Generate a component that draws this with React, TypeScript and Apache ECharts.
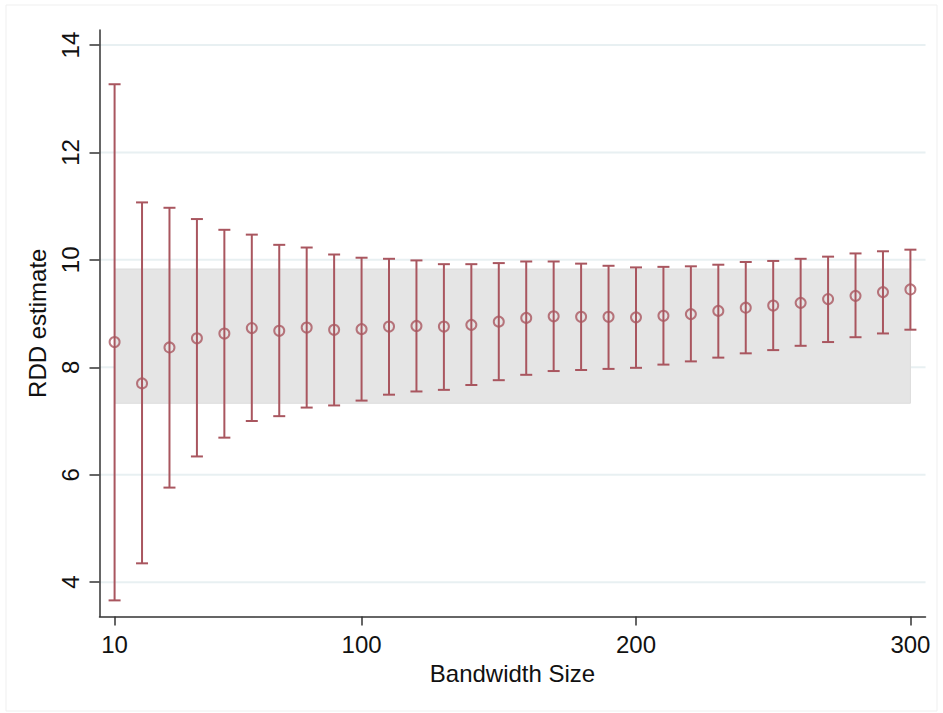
import { useEffect, useRef } from "react";
import * as echarts from "echarts";

const bandwidths = [
  10, 20, 30, 40, 50, 60, 70, 80, 90, 100, 110, 120, 130, 140, 150, 160, 170,
  180, 190, 200, 210, 220, 230, 240, 250, 260, 270, 280, 290, 300,
];
const estimates = [
  8.47, 7.7, 8.37, 8.54, 8.63, 8.73, 8.68, 8.74, 8.7, 8.71, 8.76, 8.77, 8.76,
  8.79, 8.85, 8.92, 8.95, 8.94, 8.94, 8.93, 8.96, 8.99, 9.05, 9.11, 9.15, 9.2,
  9.27, 9.33, 9.4, 9.45,
];
const upperCI = [
  13.27, 11.07, 10.97, 10.76, 10.56, 10.47, 10.28, 10.23, 10.1, 10.04, 10.02,
  9.99, 9.92, 9.92, 9.94, 9.97, 9.97, 9.93, 9.89, 9.86, 9.87, 9.88, 9.91, 9.96,
  9.98, 10.02, 10.06, 10.12, 10.16, 10.19,
];
const lowerCI = [
  3.66, 4.35, 5.76, 6.34, 6.69, 7.0, 7.09, 7.25, 7.29, 7.38, 7.49, 7.55, 7.58,
  7.67, 7.76, 7.86, 7.93, 7.95, 7.97, 7.99, 8.05, 8.11, 8.18, 8.26, 8.32, 8.4,
  8.47, 8.56, 8.63, 8.7,
];
// shaded reference band: x from/to, y low/high
const bandX = [10, 300];
const bandY = [7.33, 9.83];

const xTicks = [10, 100, 200, 300];
const yTicks = [4, 6, 8, 10, 12, 14];

const xMin = 4.5;
const xMax = 305.5;
const barColor = "#a9565f";
const font = "'Liberation Sans', Arial, sans-serif";

export default function App() {
  const chartRef = useRef<HTMLDivElement>(null);

  useEffect(() => {
    if (!chartRef.current) return;
    const chart = echarts.init(chartRef.current, null, { renderer: "svg" });

    const barData = bandwidths.map((b, i) => [b, lowerCI[i], upperCI[i]]);
    const pointData = bandwidths.map((b, i) => [b, estimates[i]]);

    chart.setOption({
      animation: false,
      backgroundColor: "#ffffff",
      graphic: [
        {
          type: "rect",
          shape: { x: 6, y: 5, width: 931, height: 706 },
          style: { fill: "none", stroke: "#efefef", lineWidth: 1 },
          silent: true,
        },
      ],
      grid: {
        left: 99.5,
        right: 17.5,
        top: 30,
        bottom: 96.5,
        containLabel: false,
      },
      xAxis: {
        type: "value",
        min: xMin,
        max: xMax,
        name: "Bandwidth Size",
        nameLocation: "middle",
        nameGap: 41,
        nameTextStyle: { fontFamily: font, fontSize: 24, color: "#111" },
        axisLine: { lineStyle: { color: "#333", width: 1.5 } },
        axisTick: {
          customValues: xTicks,
          length: 9,
          lineStyle: { color: "#333", width: 1.5 },
        },
        axisLabel: {
          customValues: xTicks,
          margin: 16,
          fontFamily: font,
          fontSize: 24,
          color: "#111",
        },
        splitLine: { show: false },
      },
      yAxis: {
        type: "value",
        min: 3.36,
        max: 14.28,
        name: "RDD estimate",
        nameLocation: "middle",
        nameGap: 50,
        nameRotate: 90,
        nameTextStyle: { fontFamily: font, fontSize: 24, color: "#111" },
        axisLine: { onZero: false, lineStyle: { color: "#333", width: 1.5 } },
        axisTick: {
          customValues: yTicks,
          length: 10,
          lineStyle: { color: "#333", width: 1.5 },
        },
        axisLabel: {
          customValues: yTicks,
          rotate: 90,
          margin: 17,
          fontFamily: font,
          fontSize: 24,
          color: "#111",
        },
        splitLine: { show: false },
      },
      series: [
        {
          // horizontal grid lines at the y ticks
          type: "custom",
          z: 0,
          silent: true,
          data: yTicks.map((t) => [t]),
          renderItem: (params: any, api: any) => {
            const a = api.coord([xMin, api.value(0)]);
            const b = api.coord([xMax, api.value(0)]);
            return {
              type: "line",
              shape: { x1: a[0], y1: a[1], x2: b[0], y2: b[1] },
              style: { stroke: "#e8f0f2", lineWidth: 2 },
            };
          },
        },
        {
          // shaded band
          type: "custom",
          z: 1,
          silent: true,
          data: [[bandX[0], bandY[0], bandX[1], bandY[1]]],
          renderItem: (params: any, api: any) => {
            const p0 = api.coord([api.value(0), api.value(3)]);
            const p1 = api.coord([api.value(2), api.value(1)]);
            return {
              type: "rect",
              shape: {
                x: p0[0],
                y: p0[1],
                width: p1[0] - p0[0],
                height: p1[1] - p0[1],
              },
              style: { fill: "#e5e5e5", stroke: "#dcdcdc", lineWidth: 1 },
            };
          },
        },
        {
          type: "custom",
          z: 3,
          data: barData,
          renderItem: (params: any, api: any) => {
            const lo = api.coord([api.value(0), api.value(1)]);
            const hi = api.coord([api.value(0), api.value(2)]);
            const cap = 6;
            const style = { stroke: barColor, lineWidth: 2 };
            return {
              type: "group",
              children: [
                {
                  type: "line",
                  shape: { x1: lo[0], y1: lo[1], x2: hi[0], y2: hi[1] },
                  style,
                },
                {
                  type: "line",
                  shape: { x1: lo[0] - cap, y1: lo[1], x2: lo[0] + cap, y2: lo[1] },
                  style,
                },
                {
                  type: "line",
                  shape: { x1: hi[0] - cap, y1: hi[1], x2: hi[0] + cap, y2: hi[1] },
                  style,
                },
              ],
            };
          },
        },
        {
          type: "scatter",
          z: 4,
          data: pointData,
          symbol: "circle",
          symbolSize: 10,
          itemStyle: {
            color: "transparent",
            borderColor: barColor,
            borderWidth: 2,
          },
        },
      ],
    });

    return () => {
      chart.dispose();
    };
  }, []);

  return (
    <div
      ref={chartRef}
      style={{ position: "absolute", left: 0, top: 0, width: 943, height: 713 }}
    />
  );
}
